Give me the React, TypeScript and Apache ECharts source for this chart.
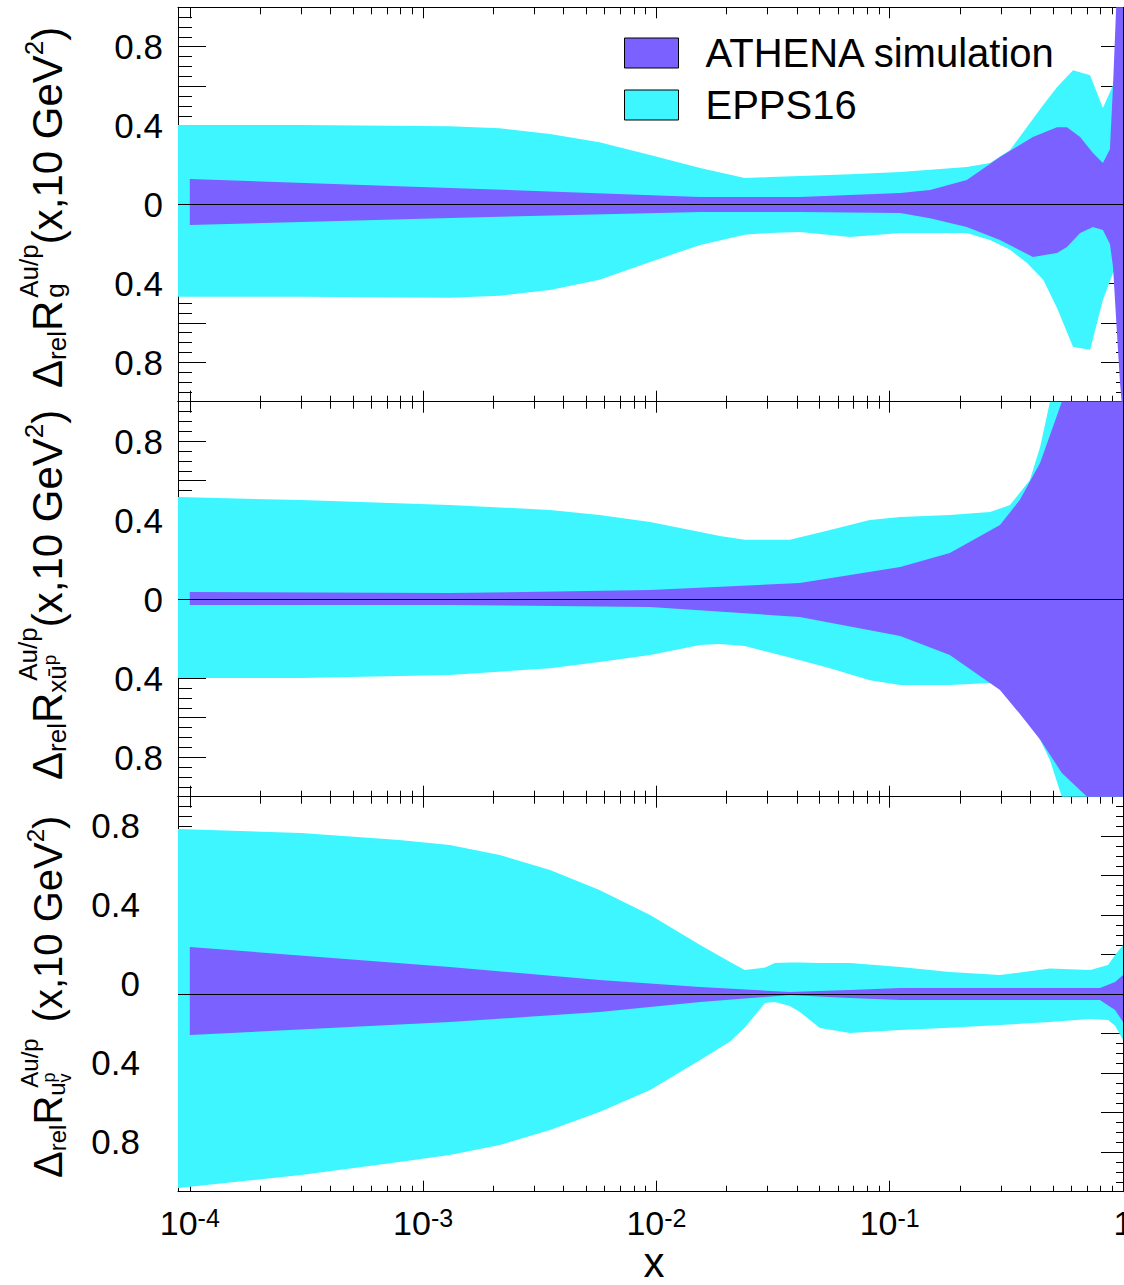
import React, { useEffect, useRef } from 'react';
import * as echarts from 'echarts';

const FONT = '"Liberation Sans", Arial, Helvetica, sans-serif';
const PURPLE = '#7b61ff';
const CYAN = '#3ef6ff';

const X_RANGE = [8.9e-5, 1];
const DECADE_TICKS = [1e-4, 1e-3, 1e-2, 1e-1, 1];
const KINEMATIC_LIMITS = [5.1e-4, 1.28e-3];
const LEGEND_NAMES = ['ATHENA simulation', 'EPPS16'];

// gluon, Au/p at 10 GeV^2 : EPPS16 band
const gluonEppsX = [8.9e-5, 3.0e-4, 1.3e-3, 2.13e-3, 3.5e-3, 5.7e-3, 9.4e-3, 1.54e-2, 2.39e-2, 3.07e-2, 4.12e-2, 6.76e-2, 0.111, 0.214, 0.269, 0.328, 0.387, 0.455, 0.521, 0.611, 0.723, 0.82, 0.906, 1.0];
const gluonEppsUp = [0.403, 0.403, 0.397, 0.387, 0.357, 0.316, 0.251, 0.185, 0.134, 0.139, 0.144, 0.154, 0.165, 0.19, 0.21, 0.276, 0.392, 0.504, 0.595, 0.681, 0.656, 0.489, 0.605, 0.757];
const gluonEppsLo = [-0.468, -0.468, -0.473, -0.463, -0.433, -0.382, -0.291, -0.205, -0.154, -0.144, -0.139, -0.165, -0.144, -0.144, -0.18, -0.23, -0.296, -0.382, -0.524, -0.722, -0.737, -0.484, -0.347, -0.281];
// gluon : ATHENA simulation band
const gluonAthX = [1e-4, 1.3e-3, 1.54e-2, 4.12e-2, 0.111, 0.149, 0.214, 0.297, 0.411, 0.521, 0.575, 0.655, 0.743, 0.82, 0.879, 0.906, 0.942, 0.971, 1.0];
const gluonAthUp = [0.129, 0.084, 0.038, 0.038, 0.058, 0.073, 0.124, 0.241, 0.342, 0.392, 0.392, 0.342, 0.261, 0.21, 0.28, 0.6, 1.1, 1.6, 2.0];
const gluonAthLo = [-0.104, -0.068, -0.038, -0.038, -0.043, -0.07, -0.114, -0.18, -0.266, -0.246, -0.215, -0.144, -0.114, -0.129, -0.2, -0.316, -0.65, -0.904, -1.09];

// x*ubar sea : EPPS16 band
const seaEppsX = [8.9e-5, 3.0e-4, 1.3e-3, 3.5e-3, 5.7e-3, 9.4e-3, 1.54e-2, 1.87e-2, 2.39e-2, 3.73e-2, 5.55e-2, 8.22e-2, 0.111, 0.181, 0.269, 0.328, 0.399, 0.441, 0.486, 0.547, 0.655, 1.0];
const seaEppsUp = [0.517, 0.502, 0.477, 0.452, 0.426, 0.391, 0.34, 0.32, 0.301, 0.301, 0.35, 0.401, 0.416, 0.426, 0.441, 0.477, 0.603, 0.77, 0.998, 1.15, 1.4, 2.0];
const seaEppsLo = [-0.399, -0.399, -0.384, -0.349, -0.318, -0.283, -0.232, -0.227, -0.237, -0.295, -0.35, -0.41, -0.434, -0.434, -0.424, -0.46, -0.612, -0.71, -0.814, -1.001, -1.2, -2.0];
// x*ubar sea : ATHENA simulation band
const seaAthX = [1e-4, 1.3e-3, 9.4e-3, 4.12e-2, 0.111, 0.181, 0.297, 0.361, 0.441, 0.547, 0.701, 1.0];
const seaAthUp = [0.036, 0.031, 0.047, 0.082, 0.163, 0.234, 0.376, 0.502, 0.69, 1.0, 1.4, 2.0];
const seaAthLo = [-0.029, -0.029, -0.04, -0.09, -0.186, -0.283, -0.46, -0.58, -0.71, -0.88, -1.0, -1.5];

// u valence : EPPS16 band
const valEppsX = [8.9e-5, 3.0e-4, 7.9e-4, 1.3e-3, 2.13e-3, 3.5e-3, 5.7e-3, 9.4e-3, 1.54e-2, 2.07e-2, 2.39e-2, 2.92e-2, 3.22e-2, 3.73e-2, 4.12e-2, 5.02e-2, 6.76e-2, 0.111, 0.181, 0.297, 0.486, 0.723, 0.863, 0.925, 1.0];
const valEppsUp = [0.836, 0.816, 0.781, 0.756, 0.705, 0.629, 0.528, 0.401, 0.249, 0.163, 0.123, 0.135, 0.158, 0.16, 0.16, 0.158, 0.158, 0.138, 0.112, 0.097, 0.13, 0.123, 0.148, 0.199, 0.249];
const valEppsLo = [-0.981, -0.915, -0.85, -0.814, -0.764, -0.688, -0.596, -0.485, -0.333, -0.24, -0.17, -0.045, -0.04, -0.06, -0.09, -0.171, -0.196, -0.181, -0.17, -0.156, -0.141, -0.125, -0.13, -0.16, -0.232];
// u valence : ATHENA simulation band
const valAthX = [1e-4, 1.3e-3, 5.7e-3, 1.54e-2, 3.73e-2, 6.76e-2, 0.111, 0.297, 0.796, 0.925, 1.0];
const valAthUp = [0.239, 0.138, 0.072, 0.036, 0.011, 0.021, 0.031, 0.031, 0.031, 0.062, 0.097];
const valAthLo = [-0.207, -0.141, -0.09, -0.039, -0.004, -0.019, -0.029, -0.029, -0.029, -0.08, -0.141];

type Band = { x: number[]; up: number[]; lo: number[] };
// one run of a stacked axis title: k = main / script / second-order script size,
// dy = baseline shift, dx = extra advance before the run, stack = start under the previous run
type Piece = { t: string; k: 'M' | 'S' | 'T'; dy: number; dx?: number; stack?: boolean };

const panels: {
  epps: Band;
  ath: Band;
  title: Piece[];
  sizes: { M: number; S: number; T: number };
}[] = [
  {
    epps: { x: gluonEppsX, up: gluonEppsUp, lo: gluonEppsLo },
    ath: { x: gluonAthX, up: gluonAthUp, lo: gluonAthLo },
    title: [
      { t: 'Δ', k: 'M', dy: 0 },
      { t: 'rel', k: 'S', dy: 4 },
      { t: 'R', k: 'M', dy: 0 },
      { t: 'Au/p', k: 'S', dy: -24, dx: 3 },
      { t: 'g', k: 'S', dy: 2, stack: true },
      { t: '(x,10 GeV', k: 'M', dy: 0 },
      { t: '2', k: 'S', dy: -19 },
      { t: ')', k: 'M', dy: 0 },
    ],
    sizes: { M: 42, S: 26, T: 19 },
  },
  {
    epps: { x: seaEppsX, up: seaEppsUp, lo: seaEppsLo },
    ath: { x: seaAthX, up: seaAthUp, lo: seaAthLo },
    title: [
      { t: 'Δ', k: 'M', dy: 0 },
      { t: 'rel', k: 'S', dy: 4 },
      { t: 'R', k: 'M', dy: 0 },
      { t: 'Au/p', k: 'S', dy: -25, dx: 12 },
      { t: 'xū', k: 'S', dy: 4, dx: -12, stack: true },
      { t: 'p', k: 'T', dy: -6 },
      { t: '(x,10 GeV', k: 'M', dy: 0 },
      { t: '2', k: 'S', dy: -19 },
      { t: ')', k: 'M', dy: 0 },
    ],
    sizes: { M: 42, S: 26, T: 19 },
  },
  {
    epps: { x: valEppsX, up: valEppsUp, lo: valEppsLo },
    ath: { x: valAthX, up: valAthUp, lo: valAthLo },
    title: [
      { t: 'Δ', k: 'M', dy: 0 },
      { t: 'rel', k: 'S', dy: 4 },
      { t: 'R', k: 'M', dy: 0 },
      { t: 'Au/p', k: 'S', dy: -24, dx: 8 },
      { t: 'u', k: 'S', dy: 3, dx: -8, stack: true },
      { t: 'v', k: 'T', dy: 9 },
      { t: 'p', k: 'T', dy: -7, stack: true },
      { t: '(x,10 GeV', k: 'M', dy: 0, dx: 16 },
      { t: '2', k: 'S', dy: -18 },
      { t: ')', k: 'M', dy: 0 },
    ],
    sizes: { M: 40, S: 24, T: 18 },
  },
];

// panel frames
const GRID_TOP = [7.3, 401.7, 796.7];
const GRID_HEIGHT = [394.4, 395, 395];
const TITLE_ORIGIN = [
  [62, 388],
  [62, 780],
  [62, 1178],
];

const minorDecadeTicks = (): number[] => {
  const out: number[] = [];
  for (let d = -4; d < 0; d++) for (let m = 2; m <= 9; m++) out.push(m * Math.pow(10, d));
  return out;
};

function buildTitle(pieces: Piece[], sizes: { M: number; S: number; T: number }, x0: number, y0: number) {
  const ctx = document.createElement('canvas').getContext('2d')!;
  let prevStart = 0;
  let prevEnd = 0;
  let maxEnd = 0;
  const children: any[] = [];
  for (const p of pieces) {
    const size = sizes[p.k];
    ctx.font = `${size}px "Liberation Sans"`;
    const w = ctx.measureText(p.t).width;
    const start = (p.stack ? prevStart : p.k === 'M' ? maxEnd : prevEnd) + (p.dx || 0);
    children.push({
      type: 'text',
      x: start,
      y: p.dy - 0.35 * size,
      style: {
        text: p.t,
        fontSize: size,
        fontFamily: FONT,
        fill: '#000',
        textAlign: 'left',
        textVerticalAlign: 'middle',
        align: 'left',
        verticalAlign: 'middle',
      },
    });
    prevStart = start;
    prevEnd = start + w;
    maxEnd = Math.max(maxEnd, prevEnd);
  }
  return { type: 'group', x: x0, y: y0, rotation: Math.PI / 2, silent: true, children };
}

const bandRenderer = (b: Band, color: string) => (params: any, api: any) => {
  const pts: number[][] = [];
  for (let k = 0; k < b.x.length; k++) pts.push(api.coord([b.x[k], b.up[k]]));
  for (let k = b.x.length - 1; k >= 0; k--) pts.push(api.coord([b.x[k], b.lo[k]]));
  const cs = params.coordSys;
  return {
    type: 'group',
    clipPath: { type: 'rect', shape: { x: cs.x, y: cs.y, width: cs.width, height: cs.height } },
    children: [{ type: 'polygon', shape: { points: pts }, style: { fill: color, stroke: 'none' } }],
  };
};

function buildOption() {
  const grid: any[] = [];
  const xAxis: any[] = [];
  const yAxis: any[] = [];
  const series: any[] = [];
  const minor = minorDecadeTicks();
  const black = { color: '#000', width: 1 };

  panels.forEach((p, i) => {
    grid.push({ left: 178, right: 1, top: GRID_TOP[i], height: GRID_HEIGHT[i], containLabel: false, outerBoundsMode: 'none' });
    const xBase = (position: string, ticks: number[], len: number, line: boolean) => ({
      type: 'log',
      gridIndex: i,
      min: X_RANGE[0],
      max: X_RANGE[1],
      position,
      axisLine: { show: line, onZero: false, lineStyle: black },
      axisTick: { show: true, inside: true, length: len, customValues: ticks, lineStyle: black },
      axisLabel: { show: false },
      splitLine: { show: false },
      minorTick: { show: false },
    });
    const bottomMajor: any = xBase('bottom', DECADE_TICKS, 11, true);
    if (i === 2) {
      bottomMajor.axisLabel = {
        show: true,
        customValues: DECADE_TICKS,
        margin: 14,
        formatter: (v: number) => {
          const e = Math.round(Math.log10(v));
          return e === 0 ? '{b|1}' : `{b|10}{s|${e}}`;
        },
        rich: {
          b: { fontSize: 34, fontFamily: FONT, color: '#000', lineHeight: 34, verticalAlign: 'bottom' },
          s: { fontSize: 25, fontFamily: FONT, color: '#000', lineHeight: 25, verticalAlign: 'top', padding: [0, 0, 15, 0] },
        },
      };
    }
    xAxis.push(bottomMajor);
    xAxis.push(xBase('bottom', minor, 6, false));
    xAxis.push(xBase('top', DECADE_TICKS, 11, true));
    xAxis.push(xBase('top', minor, 7, false));

    const yBase = (position: string, major: number, minorLen: number, labels: boolean) => ({
      type: 'value',
      gridIndex: i,
      min: -1,
      max: 1,
      interval: 0.2,
      position,
      axisLine: { show: true, onZero: false, lineStyle: black },
      axisTick: { show: true, inside: true, length: major, lineStyle: black },
      minorTick: { show: true, splitNumber: 4, length: minorLen, lineStyle: black },
      splitLine: { show: false },
      axisLabel: labels
        ? {
            show: true,
            fontSize: 35,
            fontFamily: FONT,
            color: '#000',
            margin: i === 2 ? 38 : 15,
            verticalAlign: i === 2 ? 'bottom' : 'middle',
            lineHeight: i === 2 ? 22 : 40,
            formatter: (v: number) => {
              const a = Math.round(Math.abs(v) * 10);
              return a % 4 === 0 && a < 10 ? String(a / 10) : '';
            },
          }
        : { show: false },
    });
    yAxis.push(yBase('left', 28, 14, true));
    yAxis.push(yBase('right', 22, 7, false));

    const xIdx = i * 4;
    const yIdx = i * 2;
    series.push({
      type: 'custom',
      name: LEGEND_NAMES[1],
      xAxisIndex: xIdx,
      yAxisIndex: yIdx,
      clip: true,
      silent: true,
      itemStyle: { color: CYAN },
      data: [[1e-3, 0]],
      renderItem: bandRenderer(p.epps, CYAN),
      z: 2,
    });
    series.push({
      type: 'custom',
      name: LEGEND_NAMES[0],
      xAxisIndex: xIdx,
      yAxisIndex: yIdx,
      clip: true,
      silent: true,
      itemStyle: { color: PURPLE },
      data: [[1e-3, 0]],
      renderItem: bandRenderer(p.ath, PURPLE),
      z: 3,
      markLine: {
        silent: true,
        symbol: ['none', 'none'],
        label: { show: false },
        lineStyle: { color: '#000', width: 1, type: 'solid' },
        data: [
          { yAxis: 0 },
          ...KINEMATIC_LIMITS.map((x) => ({ xAxis: x, lineStyle: { color: '#000', width: 1, type: [6, 4] } })),
        ],
      },
    });
  });

  const graphic: any[] = panels.map((p, i) => buildTitle(p.title, p.sizes, TITLE_ORIGIN[i][0], TITLE_ORIGIN[i][1]));
  graphic.push({
    type: 'text',
    x: 654,
    y: 1262,
    silent: true,
    style: { text: 'x', fontSize: 42, fontFamily: FONT, fill: '#000', textAlign: 'center', textVerticalAlign: 'middle', align: 'center', verticalAlign: 'middle' },
  });

  return {
    animation: false,
    backgroundColor: '#fff',
    grid,
    xAxis,
    yAxis,
    series,
    graphic,
    legend: {
      orient: 'vertical',
      left: 624,
      top: 33,
      padding: 0,
      itemWidth: 54,
      itemHeight: 30,
      itemGap: 12,
      selectedMode: false,
      textStyle: { fontSize: 40, fontFamily: FONT, color: '#000', lineHeight: 40, padding: [0, 0, 0, 22] },
      data: [
        { name: LEGEND_NAMES[0], icon: 'rect', itemStyle: { color: PURPLE, borderColor: '#000', borderWidth: 1 } },
        { name: LEGEND_NAMES[1], icon: 'rect', itemStyle: { color: CYAN, borderColor: '#000', borderWidth: 1 } },
      ],
    },
  };
}

export default function App() {
  const ref = useRef<HTMLDivElement>(null);
  useEffect(() => {
    if (!ref.current) return;
    const chart = echarts.init(ref.current, null, { renderer: 'svg' });
    chart.setOption(buildOption() as any);
    return () => chart.dispose();
  }, []);
  return <div ref={ref} style={{ position: 'absolute', left: 0, top: 0, width: 1124, height: 1285 }} />;
}
